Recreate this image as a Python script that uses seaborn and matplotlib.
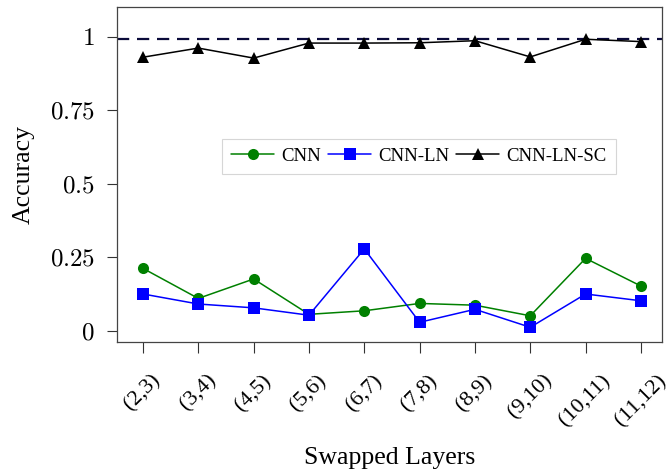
import numpy as np
import pandas as pd
import seaborn as sns
import matplotlib
matplotlib.use("Agg")
import matplotlib.pyplot as plt

layers = ["(2,3)", "(3,4)", "(4,5)", "(5,6)", "(6,7)", "(7,8)", "(8,9)", "(9,10)", "(10,11)", "(11,12)"]
cnn = [0.213, 0.111, 0.177, 0.057, 0.069, 0.094, 0.088, 0.052, 0.247, 0.153]
cnn_ln = [0.126, 0.092, 0.079, 0.054, 0.279, 0.030, 0.074, 0.013, 0.126, 0.103]
cnn_ln_sc = [0.930, 0.961, 0.927, 0.978, 0.978, 0.979, 0.986, 0.931, 0.991, 0.983]
baseline = 0.993
yticks = [0, 0.25, 0.5, 0.75, 1]
ytick_labels = ["0", "0.25", "0.5", "0.75", "1"]

sns.set_theme(style="white")
plt.rcParams['font.family'] = ['Liberation Serif', 'DejaVu Serif']
plt.rcParams['mathtext.fontset'] = 'cm'
plt.rcParams['text.color'] = 'black'
plt.rcParams['axes.labelcolor'] = 'black'
plt.rcParams['xtick.color'] = 'black'
plt.rcParams['ytick.color'] = 'black'

fig, ax = plt.subplots(figsize=(6.7, 4.76), dpi=100)
fig.subplots_adjust(left=0.1746, right=0.988, top=0.985, bottom=0.2815)

pos = np.arange(len(layers))
ax.axhline(baseline, color="#0a0a3a", lw=1.6, ls=(0, (5.5, 3.5)), zorder=1)

series = [("CNN", cnn, "green", "o", 8),
          ("CNN-LN", cnn_ln, "blue", "s", 8.5),
          ("CNN-LN-SC", cnn_ln_sc, "black", "^", 8)]
for name, vals, col, mk, ms in series:
    sns.lineplot(x=pos, y=vals, ax=ax, color=col, marker=mk, markersize=ms,
                 markeredgewidth=0, lw=1.1, label=name)

ax.set_xlim(-0.47, 9.38)
ax.set_ylim(-0.037, 1.10)
ax.set_xticks(pos)
ax.set_xticklabels(layers, rotation=45, ha="center", va="top")
ax.set_yticks(yticks)
ax.set_yticklabels(["$%s$" % t for t in ytick_labels])
ax.tick_params(axis="x", bottom=True, length=8, width=0.8, color="#333333", labelsize=16, pad=13)
ax.tick_params(axis="y", left=True, length=7, width=0.8, color="#333333", labelsize=18, pad=9)

for s in ax.spines.values():
    s.set_color("#444444")
    s.set_linewidth(0.9)

ax.set_xlabel("Swapped Layers", fontsize=18.5, labelpad=12)
ax.set_ylabel("Accuracy", fontsize=18.5, labelpad=11)

leg = ax.legend(loc="center", bbox_to_anchor=(0.554, 0.554), ncol=3, fontsize=13.5,
                frameon=True, fancybox=False, edgecolor="#cccccc", handlelength=2.3,
                columnspacing=0.37, handletextpad=0.37, borderpad=0.5)
leg.get_frame().set_linewidth(0.8)

fig.savefig("out.png", dpi=100)
